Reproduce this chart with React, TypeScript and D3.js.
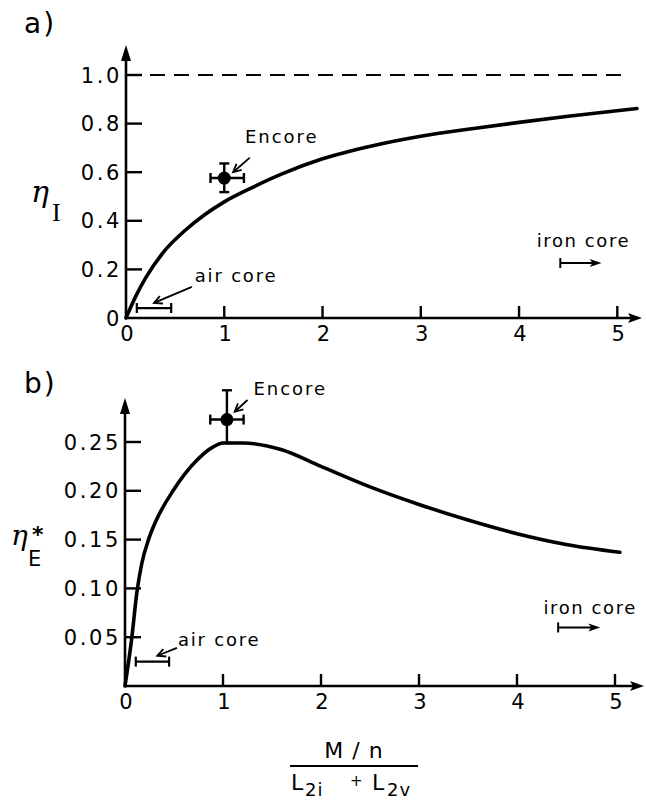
import React from "react";
import { scaleLinear, line, curveMonotoneX } from "d3";

// panel a: current efficiency eta_I
const curveAX = [0, 0.1, 0.2, 0.4, 0.6, 0.8, 1.0, 1.3, 1.6, 2.0, 2.5, 3.0, 3.5, 4.0, 4.5, 5.2];
const curveAY = [0, 0.09, 0.165, 0.28, 0.36, 0.425, 0.478, 0.54, 0.595, 0.655, 0.708, 0.748, 0.778, 0.805, 0.83, 0.862];

// panel b: energy efficiency eta_E*
const curveBX = [0, 0.07, 0.12, 0.17, 0.24, 0.32, 0.49, 0.73, 0.9, 1.0, 1.2, 1.6, 2.0, 2.5, 3.0, 3.5, 4.0, 4.5, 5.05];
const curveBY = [0, 0.05, 0.095, 0.125, 0.15, 0.17, 0.2, 0.231, 0.245, 0.249, 0.249, 0.242, 0.225, 0.204, 0.186, 0.17, 0.156, 0.145, 0.137];

const xTicks = [0, 1, 2, 3, 4, 5];
const yTicksA = [0, 0.2, 0.4, 0.6, 0.8, 1.0];
const yTickLabelsA = ["0", "0.2", "0.4", "0.6", "0.8", "1.0"];
const yTicksB = [0.05, 0.1, 0.15, 0.2, 0.25];
const yTickLabelsB = ["0.05", "0.10", "0.15", "0.20", "0.25"];

// Encore measurement: [x, y, xLo, xHi, yLo, yHi]
const encoreA = [1.0, 0.576, 0.86, 1.2, 0.518, 0.636];
const encoreB = [1.04, 0.273, 0.87, 1.21, 0.249, 0.303];

// air core range [xLo, xHi, y]
const airCoreA = [0.11, 0.46, 0.041];
const airCoreB = [0.11, 0.45, 0.025];

// iron core arrow [xFrom, xTo, y]
const ironCoreA = [4.42, 4.84, 0.226];
const ironCoreB = [4.42, 4.85, 0.06];

const FONT = "'DejaVu Sans', sans-serif";

type Panel = {
  x: any;
  y: any;
  xs: number[];
  ys: number[];
  yTicks: number[];
  yLabels: string[];
  arrowTop: number;
  axisEnd: number;
  encore: number[];
  encoreLabel: [number, number];
  encoreArrow: [number, number, number, number];
  air: number[];
  airLabel: [number, number];
  airArrow: [number, number, number, number];
  iron: number[];
  ironLabel: [number, number];
  dashed?: boolean;
};

function arrowHead(x1: number, y1: number, x2: number, y2: number, len: number, half: number) {
  const a = Math.atan2(y2 - y1, x2 - x1);
  const bx = x2 - len * Math.cos(a);
  const by = y2 - len * Math.sin(a);
  const px = -Math.sin(a) * half;
  const py = Math.cos(a) * half;
  return `M${bx + px},${by + py}L${x2},${y2}L${bx - px},${by - py}`;
}

function PanelView({ p }: { p: Panel }) {
  const { x, y } = p;
  const x0 = x(0);
  const y0 = y(0);
  const path = line<number>()
    .x((_, i) => x(p.xs[i]))
    .y(d => y(d))
    .curve(curveMonotoneX)(p.ys) as string;

  const [ex, ey, exl, exh, eyl, eyh] = p.encore;
  const [ax1, ay1, ax2, ay2] = p.encoreArrow;
  const [rx1, ry1, rx2, ry2] = p.airArrow;
  return (
    <g>
      {/* axes */}
      <line x1={x0} y1={y0} x2={x0} y2={p.arrowTop + 10} stroke="#000" strokeWidth={2.6} />
      <path d={`M${x0},${p.arrowTop}L${x0 - 5},${p.arrowTop + 16}L${x0 + 5},${p.arrowTop + 16}Z`} fill="#000" />
      <line x1={x0 - 1} y1={y0} x2={p.axisEnd - 6} y2={y0} stroke="#000" strokeWidth={2.6} />
      <path d={`M${p.axisEnd},${y0}L${p.axisEnd - 14},${y0 - 5}L${p.axisEnd - 11},${y0}L${p.axisEnd - 14},${y0 + 5}Z`} fill="#000" />

      {p.dashed && (
        <line x1={x0} y1={y(1)} x2={x(5.12)} y2={y(1)} stroke="#000" strokeWidth={2} strokeDasharray="15 9" />
      )}

      {p.yTicks.map((t, i) => (
        <g key={"y" + i}>
          {t > 0 && <line x1={x0} x2={x0 + 16} y1={y(t)} y2={y(t)} stroke="#000" strokeWidth={2.4} />}
          <text x={x0 - 4} y={y(t) + 7.5} textAnchor="end" fontFamily={FONT} fontSize={21} letterSpacing={2.6}>
            {p.yLabels[i]}
          </text>
        </g>
      ))}

      {xTicks.map(t => (
        <g key={"x" + t}>
          {t > 0 && <line x1={x(t)} x2={x(t)} y1={y0} y2={y0 - 12} stroke="#000" strokeWidth={2.4} />}
          <text x={x(t) + 1} y={y0 + 23} textAnchor="middle" fontFamily={FONT} fontSize={21}>
            {t}
          </text>
        </g>
      ))}

      <path d={path} fill="none" stroke="#000" strokeWidth={3.6} strokeLinejoin="round" strokeLinecap="round" />

      {/* Encore point */}
      <g stroke="#000" strokeWidth={2.4}>
        <line x1={x(exl)} x2={x(exh)} y1={y(ey)} y2={y(ey)} />
        <line x1={x(ex)} x2={x(ex)} y1={y(eyl)} y2={y(eyh)} />
        <line x1={x(exl)} x2={x(exl)} y1={y(ey) - 5} y2={y(ey) + 5} />
        <line x1={x(exh)} x2={x(exh)} y1={y(ey) - 5} y2={y(ey) + 5} />
        <line x1={x(ex) - 5} x2={x(ex) + 5} y1={y(eyl)} y2={y(eyl)} />
        <line x1={x(ex) - 5} x2={x(ex) + 5} y1={y(eyh)} y2={y(eyh)} />
      </g>
      <circle cx={x(ex)} cy={y(ey)} r={6.5} fill="#000" />
      <text x={x(p.encoreLabel[0])} y={y(p.encoreLabel[1])} fontFamily={FONT} fontSize={18} letterSpacing={2}>
        Encore
      </text>
      <line x1={x(ax1)} y1={y(ay1)} x2={x(ax2)} y2={y(ay2)} stroke="#000" strokeWidth={1.8} />
      <path d={arrowHead(x(ax1), y(ay1), x(ax2), y(ay2), 8, 4)} fill="none" stroke="#000" strokeWidth={1.8} />

      {/* air core */}
      <g stroke="#000" strokeWidth={2.2}>
        <line x1={x(p.air[0])} x2={x(p.air[1])} y1={y(p.air[2])} y2={y(p.air[2])} />
        <line x1={x(p.air[0])} x2={x(p.air[0])} y1={y(p.air[2]) - 5} y2={y(p.air[2]) + 5} />
        <line x1={x(p.air[1])} x2={x(p.air[1])} y1={y(p.air[2]) - 5} y2={y(p.air[2]) + 5} />
      </g>
      <text x={x(p.airLabel[0])} y={y(p.airLabel[1])} fontFamily={FONT} fontSize={18} letterSpacing={1.8}>
        air core
      </text>
      <line x1={x(rx1)} y1={y(ry1)} x2={x(rx2)} y2={y(ry2)} stroke="#000" strokeWidth={1.8} />
      <path d={arrowHead(x(rx1), y(ry1), x(rx2), y(ry2), 8, 4)} fill="none" stroke="#000" strokeWidth={1.8} />

      {/* iron core */}
      <text x={x(p.ironLabel[0])} y={y(p.ironLabel[1])} fontFamily={FONT} fontSize={18} letterSpacing={1.6}>
        iron core
      </text>
      <g stroke="#000" strokeWidth={2}>
        <line x1={x(p.iron[0])} x2={x(p.iron[1]) - 6} y1={y(p.iron[2])} y2={y(p.iron[2])} />
        <line x1={x(p.iron[0])} x2={x(p.iron[0])} y1={y(p.iron[2]) - 5} y2={y(p.iron[2]) + 5} />
      </g>
      <path
        d={`M${x(p.iron[1])},${y(p.iron[2])}L${x(p.iron[1]) - 12},${y(p.iron[2]) - 4}L${x(p.iron[1]) - 9},${y(p.iron[2])}L${x(p.iron[1]) - 12},${y(p.iron[2]) + 4}Z`}
        fill="#000"
      />
    </g>
  );
}

export default function App() {
  const panelA: Panel = {
    x: scaleLinear().domain([0, 5]).range([126, 617.3]),
    y: scaleLinear().domain([0, 1]).range([318, 75]),
    xs: curveAX,
    ys: curveAY,
    yTicks: yTicksA,
    yLabels: yTickLabelsA,
    arrowTop: 45,
    axisEnd: 642,
    encore: encoreA,
    encoreLabel: [1.21, 0.72],
    encoreArrow: [1.26, 0.66, 1.09, 0.6],
    air: airCoreA,
    airLabel: [0.7, 0.148],
    airArrow: [0.67, 0.128, 0.285, 0.062],
    iron: ironCoreA,
    ironLabel: [4.18, 0.292],
    dashed: true
  };
  const panelB: Panel = {
    x: scaleLinear().domain([0, 5]).range([125, 615]),
    y: scaleLinear().domain([0, 0.25]).range([686, 442]),
    xs: curveBX,
    ys: curveBY,
    yTicks: yTicksB,
    yLabels: yTickLabelsB,
    arrowTop: 398,
    axisEnd: 644,
    encore: encoreB,
    encoreLabel: [1.31, 0.298],
    encoreArrow: [1.25, 0.293, 1.12, 0.281],
    air: airCoreB,
    airLabel: [0.54, 0.041],
    airArrow: [0.53, 0.039, 0.33, 0.031],
    iron: ironCoreB,
    ironLabel: [4.27, 0.074]
  };

  return (
    <svg
      width={646}
      height={806}
      style={{ position: "absolute", left: 0, top: 0, background: "#fff" }}
    >
      <rect width={646} height={806} fill="#fff" />
      <text x={24} y={33} fontFamily={FONT} fontSize={28} letterSpacing={2}>a)</text>
      <text x={24} y={393} fontFamily={FONT} fontSize={28} letterSpacing={2}>b)</text>

      {/* y labels */}
      <text x={31} y={202} fontFamily="'DejaVu Serif', serif" fontStyle="italic" fontSize={30}>η</text>
      <text x={52} y={221} fontFamily="'Liberation Serif', serif" fontSize={26}>I</text>

      <text x={11} y={545} fontFamily="'DejaVu Serif', serif" fontStyle="italic" fontSize={28}>η</text>
      <text x={32} y={542} fontFamily={FONT} fontSize={22} fontWeight="bold">*</text>
      <text x={28} y={566} fontFamily={FONT} fontSize={21}>E</text>

      <PanelView p={panelA} />
      <PanelView p={panelB} />

      {/* x label */}
      <text x={354} y={758} textAnchor="middle" fontFamily={FONT} fontSize={22} letterSpacing={1}>
        M / n
      </text>
      <line x1={290} x2={418} y1={766} y2={766} stroke="#000" strokeWidth={2} />
      <g fontFamily={FONT}>
        <text x={291} y={790} fontSize={22}>L</text>
        <text x={305} y={796} fontSize={18} letterSpacing={1}>2i</text>
        <text x={350} y={786} fontSize={15}>+</text>
        <text x={372} y={790} fontSize={22}>L</text>
        <text x={387} y={796} fontSize={18} letterSpacing={1}>2v</text>
      </g>
    </svg>
  );
}
